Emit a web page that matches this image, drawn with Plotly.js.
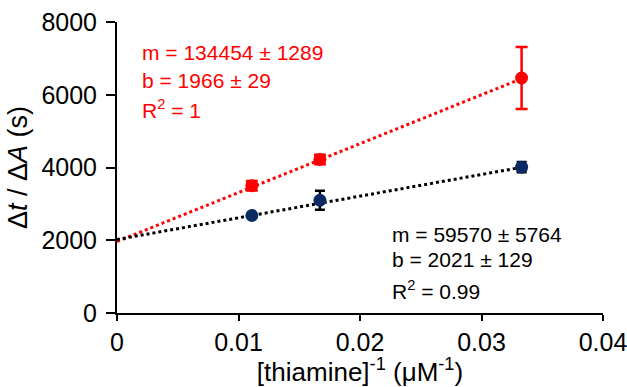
<!DOCTYPE html>
<html>
<head>
<meta charset="utf-8">
<script src="https://cdn.plot.ly/plotly-3.0.1.min.js"></script>
<style>html,body{margin:0;padding:0;background:#fff;}#chart{width:627px;height:387px;}</style>
</head>
<body>
<div id="chart"></div>
<script>
// Data
const xInv = [0.0111, 0.0167, 0.0333];
const redY = [3500, 4220, 6460];
const redErr = [130, 130, 850];
const blueY = [2680, 3100, 4010];
const blueErr = [60, 260, 140];
const fitX = [0, 0.0333];
const redFitY = [1966, 6443];
const blueFitY = [2021, 4005];
const xTicks = [0, 0.01, 0.02, 0.03, 0.04];
const xTickText = ['0', '0.01', '0.02', '0.03', '0.04'];
const yTicks = [0, 2000, 4000, 6000, 8000];

const RED = '#ff0000';
const NAVY = '#0b2a63';
const FONT = 'Liberation Sans, Arial, sans-serif';

const traces = [
  {x: fitX, y: redFitY, mode: 'lines', line: {color: RED, width: 3, dash: 'dot'}, hoverinfo: 'skip', cliponaxis: false},
  {x: fitX, y: blueFitY, mode: 'lines', line: {color: '#000', width: 3, dash: 'dot'}, hoverinfo: 'skip', cliponaxis: false},
  {x: xInv, y: blueY, mode: 'markers', marker: {color: NAVY, size: 13},
   error_y: {type: 'data', array: blueErr, visible: true, color: '#000', thickness: 2.5, width: 5}, cliponaxis: false},
  {x: xInv, y: redY, mode: 'markers', marker: {color: RED, size: 13},
   error_y: {type: 'data', array: redErr, visible: true, color: RED, thickness: 2.5, width: 6}, cliponaxis: false}
];

function ann(text, x, y, color) {
  return {text: text, x: x, y: y, xref: 'x', yref: 'y', xanchor: 'left', yanchor: 'middle',
          showarrow: false, font: {family: FONT, size: 21, color: color}};
}

const layout = {
  width: 627, height: 387,
  margin: {l: 117, r: 24, t: 22, b: 74},
  paper_bgcolor: '#fff', plot_bgcolor: '#fff',
  showlegend: false,
  font: {family: FONT, color: '#000'},
  xaxis: {
    range: [0, 0.04], tickvals: xTicks, ticktext: xTickText,
    showgrid: false, zeroline: false, showline: true, linecolor: '#000', linewidth: 2,
    ticks: 'outside', ticklen: 6, tickwidth: 2, tickcolor: '#000', ticklabeloverflow: 'allow',
    tickfont: {family: FONT, size: 25, color: '#000'},
    title: {text: '[thiamine]<sup>-1</sup> (μM<sup>-1</sup>)', font: {family: FONT, size: 26, color: '#000'}, standoff: 5}
  },
  yaxis: {
    range: [0, 8000], tickvals: yTicks,
    showgrid: false, zeroline: false, showline: true, linecolor: '#000', linewidth: 2,
    ticks: 'outside', ticklen: 9, tickwidth: 2, tickcolor: '#000', ticklabelstandoff: 4,
    tickfont: {family: FONT, size: 25, color: '#000'},
    title: {text: 'Δ<i>t</i> / Δ<i>A</i> (s)', font: {family: FONT, size: 27, color: '#000'}, standoff: 6}
  },
  annotations: [
    ann('m = 134454 ± 1289', 0.0019, 7150, RED),
    ann('b = 1966 ± 29', 0.0019, 6400, RED),
    ann('R<sup>2</sup> = 1', 0.0019, 5600, RED),
    ann('m = 59570 ± 5764', 0.0225, 2150, '#000'),
    ann('b = 2021 ± 129', 0.0225, 1460, '#000'),
    ann('R<sup>2</sup> = 0.99', 0.0225, 640, '#000')
  ]
};

Plotly.newPlot('chart', traces, layout, {displayModeBar: false, staticPlot: true});
</script>
</body>
</html>
